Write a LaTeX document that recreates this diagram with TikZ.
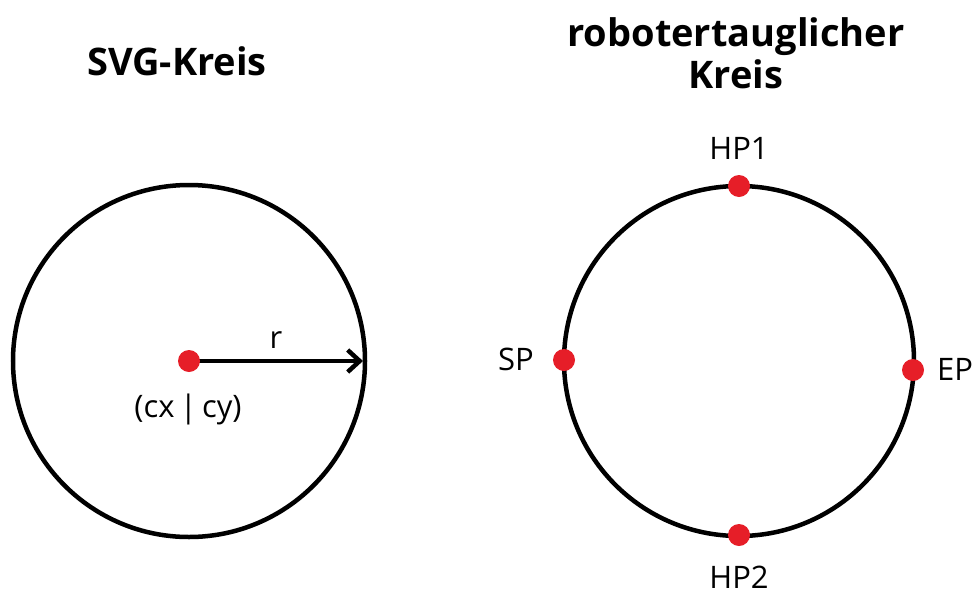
\documentclass[tikz,border=0pt]{standalone}
\usepackage{fontspec}
\setmainfont{Open Sans}
\usetikzlibrary{arrows.meta}
\definecolor{dotred}{RGB}{230,30,40}
\begin{document}
\begin{tikzpicture}[x=1pt,y=-1pt,
  ring/.style={draw=black,line width=4.5pt},
  pin/.style={circle,fill=dotred,inner sep=0pt,minimum size=22pt},
  title/.style={font=\fontsize{38}{42}\selectfont\bfseries,align=center},
  tag/.style={font=\fontsize{31}{34}\selectfont}]
\useasboundingbox (0,0) rectangle (978,595);
% SVG circle: centre and radius
\draw[ring] (189,361) circle (176);
\node[title] (t1) at (177,61) {SVG-Kreis};
\coordinate (rim) at (363,361);
\draw[line width=4.5pt,-{Straight Barb[length=12pt,width=22pt,line width=4.5pt]}] (189,361) -- (rim);
\node[pin] (c) at (189,361) {};
\node[tag] (r) at (276,340) {r};
\node[tag] (cxy) at (188,409) {(cx\,|\,cy)};
% circle described by start, help and end points
\draw[ring] (739,361) circle (175);
\node[title] (t2) at (736,53) {robotertauglicher\\Kreis};
\node[pin] (hp1) at (739,186) {};
\node[pin] (hp2) at (739,535) {};
\node[pin] (sp) at (564,360) {};
\node[pin] (ep) at (913,370) {};
\node[tag] (lhp1) at (739,148) {HP1};
\node[tag] (lhp2) at (739,577) {HP2};
\node[tag] (lsp) at (516,359) {SP};
\node[tag] (lep) at (955,369) {EP};
\end{tikzpicture}
\end{document}
